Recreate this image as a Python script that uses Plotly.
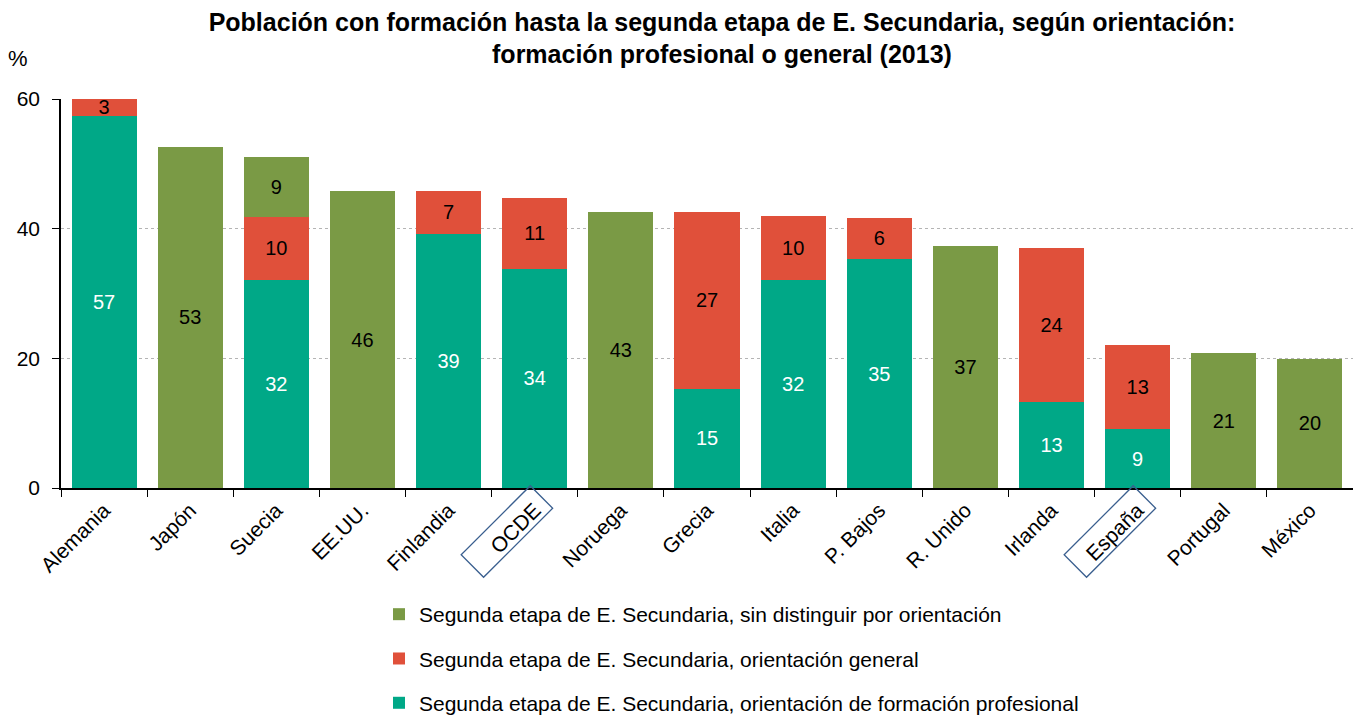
import plotly.graph_objects as go

categories = ["Alemania", "Japón", "Suecia", "EE.UU.", "Finlandia", "OCDE", "Noruega",
              "Grecia", "Italia", "P. Bajos", "R. Unido", "Irlanda", "España", "Portugal", "México"]
vocational = [57.4, None, 32.1, None, 39.2, 33.8, None, 15.3, 32.1, 35.3, None, 13.3, 9.1, None, None]
general = [2.8, None, 9.7, None, 6.6, 11.0, None, 27.3, 9.9, 6.4, None, 23.7, 13.0, None, None]
undistinguished = [None, 52.6, 9.3, 45.8, None, None, 42.6, None, None, None, 37.3, None, None, 20.8, 19.9]
boxed = ["OCDE", "España"]

names = {
    "undist": "Segunda etapa de E. Secundaria, sin distinguir por orientación",
    "gen": "Segunda etapa de E. Secundaria, orientación general",
    "voc": "Segunda etapa de E. Secundaria, orientación de formación profesional",
}
C_TEAL = "#00A887"
C_RED = "#E0503A"
C_OLIVE = "#7A9A45"
FONT = "Liberation Sans, Arial, sans-serif"

fig = go.Figure()
for vals, key, col, tcol, rank in [(vocational, "voc", C_TEAL, "white", 3),
                                   (general, "gen", C_RED, "black", 2),
                                   (undistinguished, "undist", C_OLIVE, "black", 1)]:
    fig.add_trace(go.Bar(
        x=categories, y=vals, name=names[key], legendgroup=key, legendrank=rank,
        marker=dict(color=col, line=dict(width=0)),
        texttemplate="%{y:.0f}", textposition="inside", insidetextanchor="middle",
        constraintext="none", textangle=0,
        textfont=dict(family=FONT, size=20, color=tcol),
        cliponaxis=True,
    ))

# page body has an 8px margin, so the figure is sized to fit the remaining viewport
fig.update_layout(
    width=1353, height=710,
    barmode="stack", bargap=0.245,
    plot_bgcolor="white", paper_bgcolor="white",
    margin=dict(l=53, r=8, t=91, b=230, autoexpand=False),
    font=dict(family=FONT, size=20, color="black"),
    title=dict(
        text="<b>Población con formación hasta la segunda etapa de E. Secundaria, según orientación:<br>formación profesional o general (2013)</b>",
        x=0.5277, xanchor="center", xref="container", y=0.968, yanchor="top", yref="container",
        font=dict(family=FONT, size=25, color="black"),
    ),
    legend=dict(
        orientation="v", traceorder="grouped", tracegroupgap=14,
        x=0.2742, xanchor="left", xref="container",
        y=0.1746, yanchor="top", yref="container",
        font=dict(family=FONT, size=21, color="black"),
        bgcolor="rgba(0,0,0,0)",
    ),
    xaxis=dict(
        type="category", showgrid=False, showline=True, linecolor="black", linewidth=1.5,
        ticks="outside", tickson="boundaries", ticklen=7, tickcolor="black",
        tickangle=-45, tickfont=dict(family=FONT, size=21, color="black"), automargin=False,
    ),
    yaxis=dict(
        range=[0, 60], tickvals=[0, 20, 40, 60], showline=True, linecolor="black", linewidth=1.5,
        ticks="outside", ticklen=7, tickcolor="black", ticklabelstandoff=8,
        showgrid=True, gridcolor="#B4B4B4", griddash="dot", gridwidth=1,
        tickfont=dict(family=FONT, size=21, color="black"), zeroline=False, automargin=False,
    ),
    showlegend=True,
)

fig.add_annotation(text="%", xref="paper", yref="paper", x=-0.0333, y=1.105,
                   xanchor="center", yanchor="middle", showarrow=False,
                   font=dict(family=FONT, size=22, color="black"))

for b in boxed:
    fig.add_annotation(text=" ", x=b, xref="x", y=0, yref="y", xshift=-28, yshift=-43,
                       xanchor="center", yanchor="middle", showarrow=False, textangle=-45,
                       width=96, height=30, bordercolor="#3A5F8F", borderwidth=1.3, borderpad=0)

fig.write_html("out.html")
